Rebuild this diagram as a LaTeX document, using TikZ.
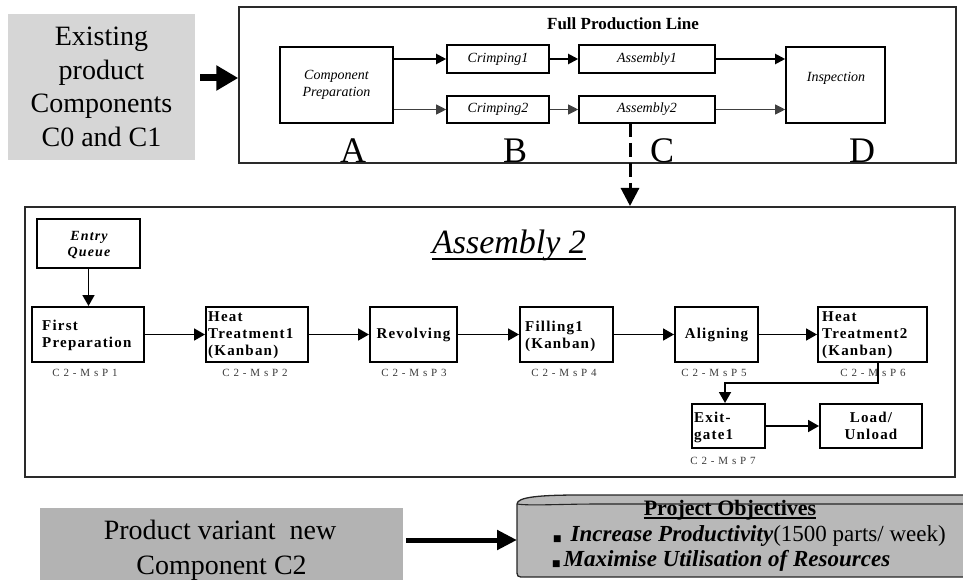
\documentclass[tikz,border=0pt]{standalone}
\usepackage{fontspec}
\setmainfont{Liberation Serif}
\newfontfamily\lsfont[LetterSpace=8]{Liberation Serif}
\newfontfamily\lblfont[LetterSpace=35]{Liberation Serif}
\newfontfamily\symfont{DejaVu Sans}
\usetikzlibrary{arrows.meta}

\definecolor{lightgrayA}{HTML}{D6D6D6}
\definecolor{midgrayB}{HTML}{B3B3B3}
\definecolor{scrollgray}{HTML}{B8B8B8}
\definecolor{framegray}{HTML}{2A2A2A}
\definecolor{lblgray}{HTML}{3A3A3A}

\tikzset{
 frame/.style={draw=framegray, line width=1.5pt, inner sep=0pt},
 topbox/.style={draw=black, line width=1.6pt, inner sep=0pt, font=\fontsize{14}{17}\selectfont\itshape},
 midbox/.style={draw=black, line width=2pt, inner sep=0pt, font=\fontsize{15}{17}\selectfont\lsfont\bfseries},
 midtxt/.style={inner sep=0pt, font=\fontsize{15}{17}\selectfont\lsfont\bfseries, align=left},
 lbl/.style={inner sep=0pt, text=lblgray, font=\fontsize{11}{11}\selectfont\lblfont},
 toparr/.style={line width=2pt, -{Triangle[length=10pt,width=10pt]}},
 thinarr/.style={line width=1pt, draw=black!75, -{Triangle[length=10pt,width=10pt]}},
 midarr/.style={line width=1.8pt, -{Triangle[length=11pt,width=12pt]}},
 bigarr/.style={line width=7pt, -{Triangle[length=22pt,width=24pt]}},
 bigarrb/.style={line width=5pt, -{Triangle[length=20pt,width=19pt]}},
 letter/.style={inner sep=0pt, anchor=base, font=\fontsize{36}{36}\selectfont},
}

\begin{document}
\begin{tikzpicture}[x=1pt,y=-1pt]
\useasboundingbox (0,0) rectangle (963,580);
\clip (0,0) rectangle (963,580);

% ---------- top-left gray box
\node[fill=lightgrayA, minimum width=187pt, minimum height=146pt, inner sep=0pt, align=center,
      font=\fontsize{28}{33.7}\selectfont] (gtop) at (101.5,87) {Existing\\product\\Components\\C0 and C1};

% ---------- Full production line frame
\node[frame, minimum width=717pt, minimum height=156pt] (fpl) at (597.5,85) {};
\node[inner sep=0pt, font=\fontsize{17}{17}\selectfont\bfseries] (fpltitle) at (623,24) {Full Production Line};

\node[topbox, minimum width=113pt, minimum height=76pt, align=center] (cp) at (336.5,85) {Component\\Preparation};
\node[topbox, minimum width=102pt, minimum height=28pt] (cr1) at (498,59) {Crimping1};
\node[topbox, minimum width=102pt, minimum height=27pt] (cr2) at (498,109.5) {Crimping2};
\node[topbox, minimum width=136pt, minimum height=28pt] (as1) at (647,59) {Assembly1};
\node[topbox, minimum width=136pt, minimum height=27pt] (as2) at (647,109.5) {Assembly2};
\node[topbox, minimum width=99pt, minimum height=76pt] (insp) at (835.5,85) {};
\node[inner sep=0pt, font=\fontsize{14}{17}\selectfont\itshape] (insptxt) at (836,78) {Inspection};

\node[letter] (la) at (353,163) {A};
\node[letter] (lb) at (515,163) {B};
\node[letter] (lc) at (662,163) {C};
\node[letter] (ld) at (862,163) {D};

\draw[bigarr] ([shift={(5pt,9pt)}]gtop.east) -- ([yshift=9pt]gtop.east -| fpl.west);

\draw[toparr] (cp.east |- cr1) -- (cr1.west);
\draw[toparr] (cr1.east) -- (as1.west);
\draw[toparr] (as1.east) -- (as1.east -| insp.west);
\draw[thinarr] (cp.east |- cr2) -- (cr2.west);
\draw[thinarr] (cr2.east) -- (as2.west);
\draw[thinarr] (as2.east) -- (as2.east -| insp.west);

% ---------- Assembly 2 panel
\node[frame, line width=2pt, minimum width=930pt, minimum height=270pt] (panel) at (490,342) {};

\coordinate (dtop) at (630,123);
\draw[line width=3pt, dash pattern=on 14pt off 6pt, -{Triangle[length=18pt,width=18pt]}] (dtop) -- (dtop |- panel.north);

\node[inner sep=0pt, anchor=base, font=\fontsize{34}{34}\selectfont\itshape] (asmt) at (509,253) {Assembly 2};
\draw[line width=1.1pt] ([yshift=-6pt]asmt.base west) -- ([yshift=-6pt]asmt.base east);

\node[midbox, minimum width=103pt, minimum height=49pt] (eq) at (88.5,243.5) {};
\node[inner sep=0pt, align=center, font=\fontsize{14}{16}\selectfont\lsfont\bfseries\itshape] (eqt) at (89,245) {Entry\\Queue};

\node[midbox, minimum width=112pt, minimum height=55pt] (fp) at (88,334.5) {};
\node[midtxt, anchor=west] (fpt) at (42,335) {First\\Preparation};
\node[midbox, minimum width=102pt, minimum height=55pt] (ht1) at (257,334.5) {};
\node[midtxt, anchor=west] (ht1t) at (208,335) {Heat\\Treatment1\\(Kanban)};
\node[midbox, minimum width=87pt, minimum height=55pt] (rev) at (413.5,334.5) {Revolving};
\node[midbox, minimum width=93pt, minimum height=55pt] (fil) at (566.5,334.5) {};
\node[midtxt, anchor=west] (filt) at (525,336) {Filling1\\(Kanban)};
\node[midbox, minimum width=83pt, minimum height=55pt] (aln) at (716.5,334.5) {Aligning};
\node[midbox, minimum width=109pt, minimum height=55pt] (ht2) at (872.5,334.5) {};
\node[midtxt, anchor=west] (ht2t) at (822,335) {Heat\\Treatment2\\(Kanban)};
\node[midbox, minimum width=73pt, minimum height=44pt] (exg) at (728.5,426) {};
\node[midtxt, anchor=west] (exgt) at (694,427) {Exit-\\gate1};
\node[midbox, minimum width=102pt, minimum height=44pt, align=center] (lu) at (871,426) {Load/\\Unload};

\node[lbl] (l1) at (85,373) {C2-MsP1};
\node[lbl] (l2) at (255,373) {C2-MsP2};
\node[lbl] (l3) at (414,373) {C2-MsP3};
\node[lbl] (l4) at (564,373) {C2-MsP4};
\node[lbl] (l5) at (714,373) {C2-MsP5};
\node[lbl] (l6) at (873,373) {C2-MsP6};
\node[lbl] (l7) at (723,461) {C2-MsP7};

\draw[midarr] (eq.south) -- (eq.south |- fp.north);
\draw[midarr] (fp.east) -- (ht1.west);
\draw[midarr] (ht1.east) -- (rev.west);
\draw[midarr] (rev.east) -- (fil.west);
\draw[midarr] (fil.east) -- (aln.west);
\draw[midarr] (aln.east) -- (ht2.west);
\draw[midarr] ([xshift=5.5pt]ht2.south) -- ++(0,20) -| ([xshift=-3.5pt]exg.north);
\draw[midarr] (exg.east) -- (lu.west);

% ---------- bottom part
\node[fill=midgrayB, minimum width=363pt, minimum height=90pt, inner sep=0pt] (gbot) at (221.5,553) {};
\node[inner sep=0pt, anchor=base, font=\fontsize{28}{28}\selectfont] (pv1) at (220,539) {Product variant\ \ new};
\node[inner sep=0pt, anchor=base, font=\fontsize{28}{28}\selectfont] (pv2) at (221.5,574) {Component C2};

\fill[scrollgray] (517,504) .. controls (517,497) and (540,495) .. (580,495) -- (960,495)
   .. controls (975,495) .. (975,503) -- (975,577) -- (525,577) .. controls (517,577) .. (517,569) -- cycle;
\draw[line width=1.3pt, black!85] (517,504) .. controls (517,497) and (540,495) .. (580,495) -- (960,495)
   .. controls (975,495) .. (975,503) -- (975,577) -- (525,577) .. controls (517,577) .. (517,569) -- cycle;
\draw[line width=1.1pt, black!85] (517,504) .. controls (530,506) and (560,504) .. (600,504) -- (975,504);

\coordinate (scrl) at (517,540);
\draw[bigarrb] ([xshift=3pt]gbot.east |- scrl) -- (scrl);

\node[inner sep=0pt, anchor=base, font=\fontsize{22}{22}\selectfont\bfseries] (po) at (730,515) {Project Objectives};
\draw[line width=1.2pt] ([yshift=-3pt]po.base west) -- ([yshift=-3pt]po.base east);
\node[inner sep=0pt, anchor=base west, font=\fontsize{23}{23}\selectfont] (ob1) at (553,541)
  {{\symfont\fontsize{9}{9}\selectfont ■}\hspace{9pt}\textbf{\textit{Increase Productivity}}(1500 parts/ week)};
\node[inner sep=0pt, anchor=base west, font=\fontsize{23}{23}\selectfont] (ob2) at (552,566)
  {{\symfont\fontsize{9}{9}\selectfont ■}\hspace{3pt}\textbf{\textit{Maximise Utilisation of Resources}}};
\end{tikzpicture}
\end{document}
